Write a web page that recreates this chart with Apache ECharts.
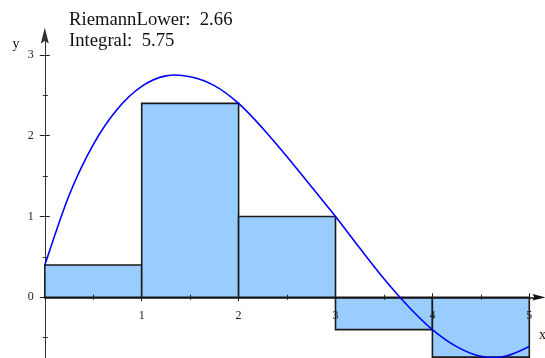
<!DOCTYPE html>
<html>
<head>
<meta charset="utf-8">
<script src="https://cdn.jsdelivr.net/npm/echarts@6/dist/echarts.min.js"></script>
<style>
  html, body { margin: 0; padding: 0; background: #ffffff; }
  #chart { width: 545px; height: 358px; }
</style>
</head>
<body>
<div id="chart"></div>
<script>
// Sampled curve f(x) on [0, 5]
const curveX = [0, 0.25, 0.5, 0.75, 1, 1.25, 1.5, 1.75, 2, 2.25, 2.5, 2.75, 3, 3.25, 3.5, 3.75, 4, 4.25, 4.5, 4.75, 5];
const curveY = [0.40, 1.26, 1.89, 2.33, 2.61, 2.74, 2.73, 2.62, 2.40, 2.09, 1.74, 1.37, 1.00, 0.61, 0.23, -0.11, -0.40, -0.61, -0.73, -0.73, -0.61];

// Lower Riemann sum: one rectangle per subinterval
const stepLeft = [0, 1, 2, 3, 4];
const stepRight = [1, 2, 3, 4, 5];
const stepHeight = [0.40, 2.40, 1.00, -0.40, -0.74];

const integralValue = 5.75;

// Tick positions
const xMajorTicks = [1, 2, 3, 4, 5];
const xMinorTicks = [0.5, 1.5, 2.5, 3.5, 4.5];
const yMajorTicks = [0, 1, 2, 3];
const yMinorTicks = [-0.5, 0.5, 1.5, 2.5];

const lowerSum = stepHeight.reduce((s, h, i) => s + h * (stepRight[i] - stepLeft[i]), 0);

const serif = 'Liberation Serif';
const X_MIN = 0, X_MAX = 5.1;
const Y_MIN = -0.76, Y_MAX = 3.24;
const PX_X = 96.9, PX_Y = 80.8;
const GRID_LEFT = 44.8, GRID_TOP = 35.5;
const ZERO_Y = GRID_TOP + Y_MAX * PX_Y;
const arrowPath = 'path://M5,0 L10,20 L5,17 L0,20 Z';

function xAxisDef(o) {
  return {
    type: 'value', gridIndex: 0, min: X_MIN, max: X_MAX, position: 'bottom', z: 3,
    axisLine: {
      show: true, onZero: true, onZeroAxisIndex: 0,
      symbol: o.line ? ['none', arrowPath] : 'none', symbolSize: [9, 13],
      lineStyle: { color: '#111111', width: 1.5, opacity: o.line ? 1 : 0 }
    },
    axisTick: { show: true, inside: o.inside, length: o.len, customValues: o.ticks,
                lineStyle: { color: '#222222', width: 1 } },
    axisLabel: { show: false },
    splitLine: { show: false }
  };
}

function yAxisDef(o) {
  return {
    type: 'value', gridIndex: 0, min: Y_MIN, max: Y_MAX, position: 'left', z: 1,
    axisLine: {
      show: true, onZero: true,
      symbol: o.line ? ['none', arrowPath] : 'none', symbolSize: [8, 21],
      lineStyle: { color: '#333333', width: 1, opacity: o.line ? 1 : 0 }
    },
    axisTick: { show: true, inside: o.inside, length: o.len, customValues: o.ticks,
                lineStyle: { color: '#222222', width: 1 } },
    axisLabel: o.line ? { show: true, customValues: yMajorTicks, margin: 11,
                fontFamily: serif, fontSize: 12, color: '#222222' } : { show: false },
    splitLine: { show: false }
  };
}

// Catmull-Rom curve through the sampled points, mapped with the axis scales
function curvePath(api) {
  const pts = curveX.map((x, i) => api.coord([x, curveY[i]]));
  const n = pts.length;
  let d = 'M' + pts[0][0] + ',' + pts[0][1];
  for (let i = 0; i < n - 1; i++) {
    const p0 = pts[Math.max(i - 1, 0)], p1 = pts[i], p2 = pts[i + 1], p3 = pts[Math.min(i + 2, n - 1)];
    const c1 = [p1[0] + (p2[0] - p0[0]) / 6, p1[1] + (p2[1] - p0[1]) / 6];
    const c2 = [p2[0] - (p3[0] - p1[0]) / 6, p2[1] - (p3[1] - p1[1]) / 6];
    d += ' C' + c1[0] + ',' + c1[1] + ' ' + c2[0] + ',' + c2[1] + ' ' + p2[0] + ',' + p2[1];
  }
  return d;
}

const chart = echarts.init(document.getElementById('chart'), null, { renderer: 'canvas' });

chart.setOption({
  animation: false,
  backgroundColor: '#ffffff',
  grid: [
    {
      left: GRID_LEFT, top: GRID_TOP,
      width: PX_X * (X_MAX - X_MIN), height: PX_Y * (Y_MAX - Y_MIN),
      containLabel: false, outerBoundsMode: 'none'
    },
    {
      // strip below y = 0 that carries the x tick labels
      left: GRID_LEFT, top: ZERO_Y,
      width: PX_X * (X_MAX - X_MIN), height: 40,
      containLabel: false, outerBoundsMode: 'none'
    }
  ],
  title: {
    text: 'RiemannLower:  ' + lowerSum.toFixed(2) + '\nIntegral:  ' + integralValue.toFixed(2),
    left: 69, top: 9, padding: 0,
    textStyle: { fontFamily: serif, fontSize: 18.7, lineHeight: 21.5, fontWeight: 'normal', color: '#111111' }
  },
  xAxis: [
    xAxisDef({ line: true, inside: false, len: 4, ticks: xMajorTicks }),
    xAxisDef({ line: false, inside: true, len: 4, ticks: xMajorTicks }),
    xAxisDef({ line: false, inside: false, len: 2.5, ticks: xMinorTicks }),
    xAxisDef({ line: false, inside: true, len: 2.5, ticks: xMinorTicks }),
    {
      type: 'value', gridIndex: 1, min: X_MIN, max: X_MAX, position: 'top', z: 3,
      axisLine: { show: false }, axisTick: { show: false }, splitLine: { show: false },
      axisLabel: { show: true, inside: true, customValues: xMajorTicks, margin: 13,
                   fontFamily: serif, fontSize: 12, color: '#222222' }
    }
  ],
  yAxis: [
    yAxisDef({ line: true, inside: false, len: 5, ticks: yMajorTicks }),
    yAxisDef({ line: false, inside: true, len: 5, ticks: yMajorTicks }),
    yAxisDef({ line: false, inside: false, len: 2, ticks: yMinorTicks }),
    yAxisDef({ line: false, inside: true, len: 3, ticks: yMinorTicks }),
    { type: 'value', gridIndex: 1, min: 0, max: 1, show: false }
  ],
  graphic: [
    { type: 'text', left: 12.5, top: 37, style: { text: 'y', font: '14px "Liberation Serif"', fill: '#111111' } },
    { type: 'text', left: 539, top: 328.5, style: { text: 'x', font: '14px "Liberation Serif"', fill: '#111111' } }
  ],
  series: [
    {
      type: 'custom',
      xAxisIndex: 0, yAxisIndex: 0, z: 2,
      data: stepLeft.map((l, i) => [l, stepRight[i], stepHeight[i]]),
      encode: { x: [0, 1], y: 2 },
      renderItem: function (params, api) {
        const a = api.coord([api.value(0), 0]);
        const b = api.coord([api.value(1), api.value(2)]);
        return {
          type: 'rect',
          shape: { x: a[0], y: Math.min(a[1], b[1]), width: b[0] - a[0], height: Math.abs(b[1] - a[1]) },
          style: { fill: '#99ccff', stroke: '#1a1a1a', lineWidth: 1.6 }
        };
      }
    },
    {
      type: 'custom',
      xAxisIndex: 0, yAxisIndex: 0, z: 10,
      data: curveX.map((x, i) => [x, curveY[i]]),
      encode: { x: 0, y: 1 },
      renderItem: function (params, api) {
        if (params.dataIndex !== 0) return null;
        return {
          type: 'path',
          shape: { pathData: curvePath(api) },
          style: { fill: 'none', stroke: '#0000ff', lineWidth: 1.6 }
        };
      }
    }
  ]
});
</script>
</body>
</html>
